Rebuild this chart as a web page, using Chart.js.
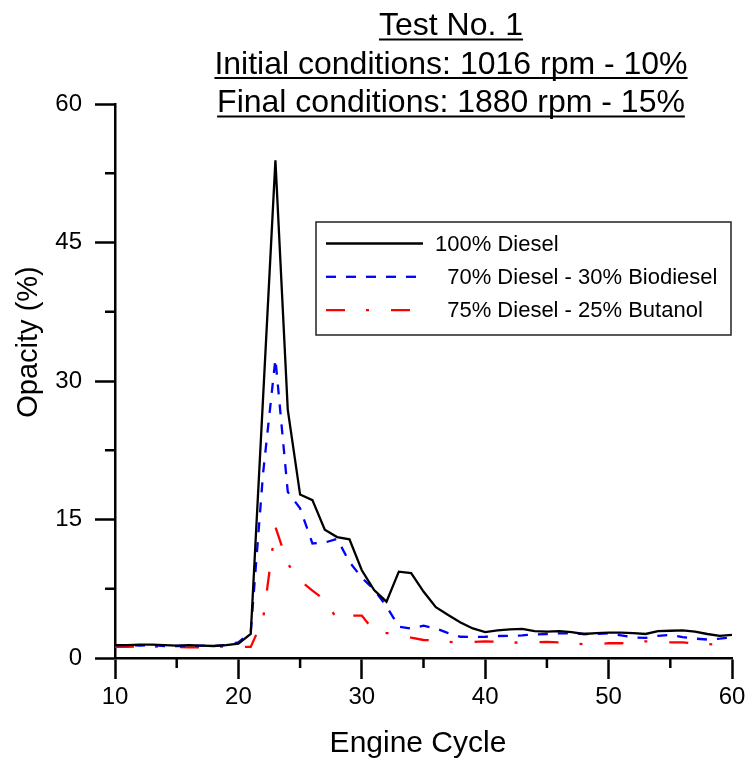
<!DOCTYPE html>
<html lang="en">
<head>
<meta charset="UTF-8">
<title>Test No. 1 - Opacity vs Engine Cycle</title>
<style>
  html, body { margin: 0; padding: 0; background: #fff; }
  #wrap { width: 752px; height: 767px; }
</style>
<script src="https://cdn.jsdelivr.net/npm/chart.js"></script>
</head>
<body>
<div id="wrap"><canvas id="opacityChart" width="752" height="767"></canvas></div>
<script>
  // values (opacity %, one per engine cycle)
  const cycles = [10, 11, 12, 13, 14, 15, 16, 17, 18, 19, 20, 21, 22, 23, 24, 25, 26, 27, 28, 29, 30,
                  31, 32, 33, 34, 35, 36, 37, 38, 39, 40, 41, 42, 43, 44, 45, 46, 47, 48, 49, 50,
                  51, 52, 53, 54, 55, 56, 57, 58, 59, 60];

  const diesel = [1.4, 1.4, 1.45, 1.45, 1.4, 1.35, 1.4, 1.35, 1.3, 1.4, 1.55, 2.6, 28.2, 53.9, 26.9, 17.7, 17.1, 13.9, 13.1, 12.85, 9.5,
                  7.35, 6.1, 9.35, 9.2, 7.2, 5.5, 4.65, 3.85, 3.2, 2.8, 3.0, 3.1, 3.15, 2.9, 2.85, 2.9, 2.8, 2.6, 2.7, 2.75,
                  2.75, 2.7, 2.6, 2.9, 2.95, 3.0, 2.85, 2.6, 2.4, 2.5];

  const biodiesel = [1.4, 1.4, 1.35, 1.4, 1.3, 1.3, 1.3, 1.35, 1.3, 1.4, 1.7, 2.8, 20.0, 32.4, 18.0, 16.2, 12.4, 12.5, 12.9, 10.4, 8.7,
                     7.4, 5.6, 3.4, 3.2, 3.5, 3.2, 2.7, 2.3, 2.27, 2.3, 2.38, 2.4, 2.45, 2.55, 2.6, 2.67, 2.67, 2.6, 2.6, 2.67,
                     2.45, 2.24, 2.17, 2.4, 2.5, 2.27, 2.1, 2.0, 2.1, 2.24];

  const butanol = [1.2, 1.2, 1.25, 1.25, 1.2, 1.2, 1.15, 1.15, 1.2, 1.25, 1.2, 1.2, 4.2, 14.2, 10.2, 8.4, 7.3, 6.3, 4.2, 4.6, 4.6,
                   2.9, 2.7, 2.6, 2.2, 1.95, 1.9, 1.75, 1.65, 1.75, 1.8, 1.75, 1.7, 1.65, 1.7, 1.75, 1.7, 1.6, 1.5, 1.5, 1.6,
                   1.6, 1.7, 1.8, 1.8, 1.7, 1.7, 1.55, 1.5, 1.45, 1.5];

  const seriesLabels = ['100% Diesel', '  70% Diesel - 30% Biodiesel', '  75% Diesel - 25% Butanol'];
  const titleLines = ['Test No. 1', 'Initial conditions: 1016 rpm - 10%', 'Final conditions: 1880 rpm - 15%'];
  const xTitle = 'Engine Cycle';
  const yTitle = 'Opacity (%)';

  const FONT = '"Liberation Sans", Arial, Helvetica, sans-serif';

  function toPoints(vals) {
    return cycles.map((c, i) => ({ x: c, y: vals[i] }));
  }

  // minor ticks, underlined title, axis titles and the boxed legend
  const decor = {
    id: 'decor',
    afterDraw(chart) {
      const ctx = chart.ctx;
      const area = chart.chartArea;
      const xs = chart.scales.x, ys = chart.scales.y;
      ctx.save();

      // minor ticks (shorter)
      ctx.strokeStyle = '#000';
      ctx.lineWidth = 2.5;
      xs.ticks.forEach(t => {
        if (t.value % 10 !== 0) {
          const px = xs.getPixelForValue(t.value);
          ctx.beginPath();
          ctx.moveTo(px, area.bottom);
          ctx.lineTo(px, area.bottom + 10);
          ctx.stroke();
        }
      });
      ys.ticks.forEach(t => {
        if (t.value % 15 !== 0) {
          const py = ys.getPixelForValue(t.value);
          ctx.beginPath();
          ctx.moveTo(area.left, py);
          ctx.lineTo(area.left - 10, py);
          ctx.stroke();
        }
      });

      // title, underlined
      ctx.fillStyle = '#000';
      ctx.font = '32px ' + FONT;
      ctx.textAlign = 'center';
      ctx.textBaseline = 'alphabetic';
      const cx = 451;
      titleLines.forEach((line, i) => {
        const by = 35 + i * 38.5;
        ctx.fillText(line, cx, by);
        const w = ctx.measureText(line).width;
        ctx.lineWidth = 2;
        ctx.beginPath();
        ctx.moveTo(cx - w / 2, by + 4.5);
        ctx.lineTo(cx + w / 2, by + 4.5);
        ctx.stroke();
      });

      // axis titles
      ctx.font = '30px ' + FONT;
      ctx.fillText(xTitle, 418, 752);
      ctx.save();
      ctx.translate(29, 342);
      ctx.rotate(-Math.PI / 2);
      ctx.textBaseline = 'middle';
      ctx.font = '29px ' + FONT;
      ctx.fillText(yTitle, 0, 0);
      ctx.restore();

      // legend box
      ctx.lineWidth = 1.5;
      ctx.strokeStyle = '#222';
      ctx.strokeRect(316, 222, 415, 113);
      ctx.font = '22px ' + FONT;
      ctx.textAlign = 'left';
      ctx.textBaseline = 'middle';
      chart.data.datasets.forEach((ds, i) => {
        const ly = 243.5 + i * 33.3;
        ctx.strokeStyle = ds.borderColor;
        ctx.lineWidth = ds.borderWidth;
        ctx.setLineDash(ds.borderDash || []);
        ctx.beginPath();
        ctx.moveTo(326, ly);
        ctx.lineTo(423, ly);
        ctx.stroke();
        ctx.setLineDash([]);
        ctx.fillStyle = '#000';
        ctx.fillText(ds.label, 435, ly + 1);
      });
      ctx.restore();
    }
  };

  new Chart(document.getElementById('opacityChart'), {
    type: 'line',
    data: {
      datasets: [
        { label: seriesLabels[0], data: toPoints(diesel), borderColor: '#000000', borderWidth: 2.3 },
        { label: seriesLabels[1], data: toPoints(biodiesel), borderColor: '#0000ff', borderWidth: 2.3, borderDash: [10, 10] },
        { label: seriesLabels[2], data: toPoints(butanol), borderColor: '#ff0000', borderWidth: 2.3, borderDash: [19, 21, 3, 22] }
      ]
    },
    options: {
      responsive: false,
      animation: false,
      devicePixelRatio: 1,
      layout: { padding: { top: 104, right: 20, left: 0, bottom: 0 } },
      elements: { point: { radius: 0 }, line: { tension: 0, fill: false } },
      plugins: { legend: { display: false }, title: { display: false }, tooltip: { enabled: false } },
      scales: {
        x: {
          type: 'linear',
          min: 10, max: 60,
          afterFit: s => { s.height = 109; },
          border: { display: true, color: '#000', width: 2.5 },
          grid: {
            drawOnChartArea: false, drawTicks: true, tickLength: 21, tickWidth: 2.5,
            tickColor: c => (c.tick && c.tick.value % 10 === 0) ? '#000' : 'rgba(0,0,0,0)'
          },
          ticks: {
            stepSize: 5, autoSkip: false, maxRotation: 0, padding: 4, color: '#000',
            font: { family: FONT, size: 24 },
            callback: v => (v % 10 === 0 ? v : '')
          }
        },
        y: {
          min: 0, max: 60,
          afterFit: s => { s.width = 115; },
          border: { display: true, color: '#000', width: 2.5 },
          grid: {
            drawOnChartArea: false, drawTicks: true, tickLength: 20, tickWidth: 2.5,
            tickColor: c => (c.tick && c.tick.value % 15 === 0) ? '#000' : 'rgba(0,0,0,0)'
          },
          ticks: {
            stepSize: 7.5, autoSkip: false, padding: 13, color: '#000',
            font: { family: FONT, size: 24 },
            callback: v => (v % 15 === 0 ? v : '')
          }
        }
      }
    },
    plugins: [decor]
  });
</script>
</body>
</html>
